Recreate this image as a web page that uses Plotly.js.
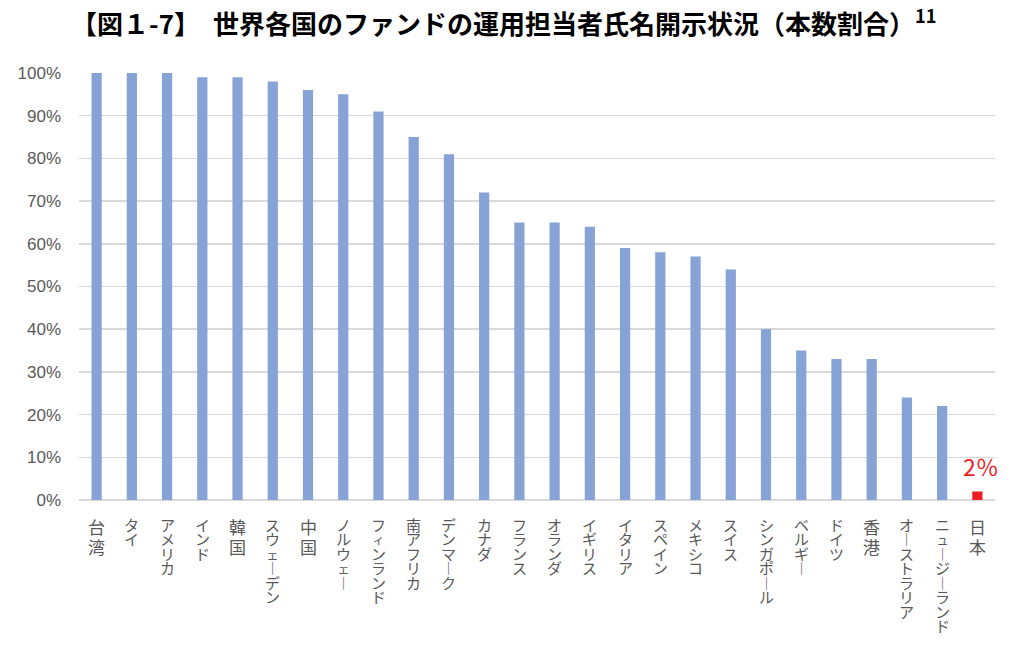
<!DOCTYPE html>
<html>
<head>
<meta charset="utf-8">
<script src="https://cdn.plot.ly/plotly-3.0.1.min.js"></script>
<style>html,body{margin:0;padding:0;background:#fff;}#chart{width:1024px;height:646px;}</style>
</head>
<body>
<div id="chart"></div>
<script>
// ---- data ----
const categories = ['台湾','タイ','アメリカ','インド','韓国','スウェーデン','中国','ノルウェー','フィンランド','南アフリカ','デンマーク','カナダ','フランス','オランダ','イギリス','イタリア','スペイン','メキシコ','スイス','シンガポール','ベルギー','ドイツ','香港','オーストラリア','ニュージーランド','日本'];
const values = [100,100,100,99,99,98,96,95,91,85,81,72,65,65,64,59,58,57,54,40,35,33,33,24,22,2];
const highlightCategory = '日本';
const highlightLabel = '2％';
const yTickVals = [0,10,20,30,40,50,60,70,80,90,100];
const yTickText = ['0%','10%','20%','30%','40%','50%','60%','70%','80%','90%','100%'];
const titleText = '【図１-7】　世界各国のファンドの運用担当者氏名開示状況（本数割合）<sup>11</sup>';

// ---- styles ----
const BLUE = '#87A2D5';
const RED = '#EE1C25';
const LABEL_COLOR = '#595959';
const JP = '"Noto Sans CJK JP", "Noto Sans", sans-serif';

const colors = categories.map(c => c === highlightCategory ? RED : BLUE);

const trace = {
  type: 'bar',
  x: categories,
  y: values,
  marker: {color: colors},
  hoverinfo: 'x+y'
};

// vertical (tategaki) category labels: one text per category, one character per line
const kanjiRe = /[\u4e00-\u9fff]/;
const smallRe = /[ァィゥェォャュョッ]/;
const annotations = categories.map(cat => {
  const chars = Array.from(cat);
  const allKanji = chars.every(ch => kanjiRe.test(ch));
  const lines = chars.map(ch => {
    if (ch === 'ー') return '<span style="font-size:15px">︱</span>';
    if (kanjiRe.test(ch)) return '<span style="font-size:' + (allKanji ? 17 : 15) + 'px">' + ch + '</span>';
    if (smallRe.test(ch)) return '<span style="font-size:12px">' + ch + '</span>';
    return '<span style="font-size:15px">' + ch + '</span>';
  });
  return {
    x: cat, xref: 'x', y: 0, yref: 'paper',
    yanchor: 'top', xanchor: 'center', align: 'center',
    yshift: -12,
    text: lines.join('<br>'), showarrow: false,
    font: {family: JP, size: allKanji ? 15.4 : 11.1, color: LABEL_COLOR}
  };
});

annotations.push({
  x: highlightCategory, xref: 'x',
  y: values[categories.indexOf(highlightCategory)], yref: 'y',
  yanchor: 'bottom', yshift: 6, xshift: 4,
  text: highlightLabel, showarrow: false,
  font: {family: JP, size: 23, color: RED}
});

const layout = {
  width: 1024, height: 646,
  margin: {l: 79.4, r: 29.4, t: 73, b: 146, pad: 0},
  paper_bgcolor: '#ffffff', plot_bgcolor: '#ffffff',
  showlegend: false,
  bargap: 0.71,
  title: {
    text: titleText,
    font: {family: JP, size: 26, color: '#000000', weight: 'bold'},
    x: 0.492, xref: 'container', xanchor: 'center',
    y: 0.962, yref: 'container', yanchor: 'middle'
  },
  xaxis: {
    type: 'category',
    range: [-0.5, categories.length - 0.5],
    autorange: false,
    showticklabels: false,
    showgrid: false,
    showline: false,
    ticks: '',
    fixedrange: true
  },
  yaxis: {
    range: [0, 100],
    autorange: false,
    tickvals: yTickVals,
    ticktext: yTickText,
    showgrid: true,
    gridcolor: '#D9D9D9',
    gridwidth: 1.5,
    zeroline: true,
    zerolinecolor: '#D9D9D9',
    zerolinewidth: 1.5,
    showline: false,
    ticks: '',
    ticklabelstandoff: 17,
    tickfont: {family: '"Liberation Sans", Arial, sans-serif', size: 17, color: LABEL_COLOR},
    fixedrange: true
  },
  annotations: annotations
};

Plotly.newPlot('chart', [trace], layout, {displayModeBar: false, staticPlot: true});
</script>
</body>
</html>
